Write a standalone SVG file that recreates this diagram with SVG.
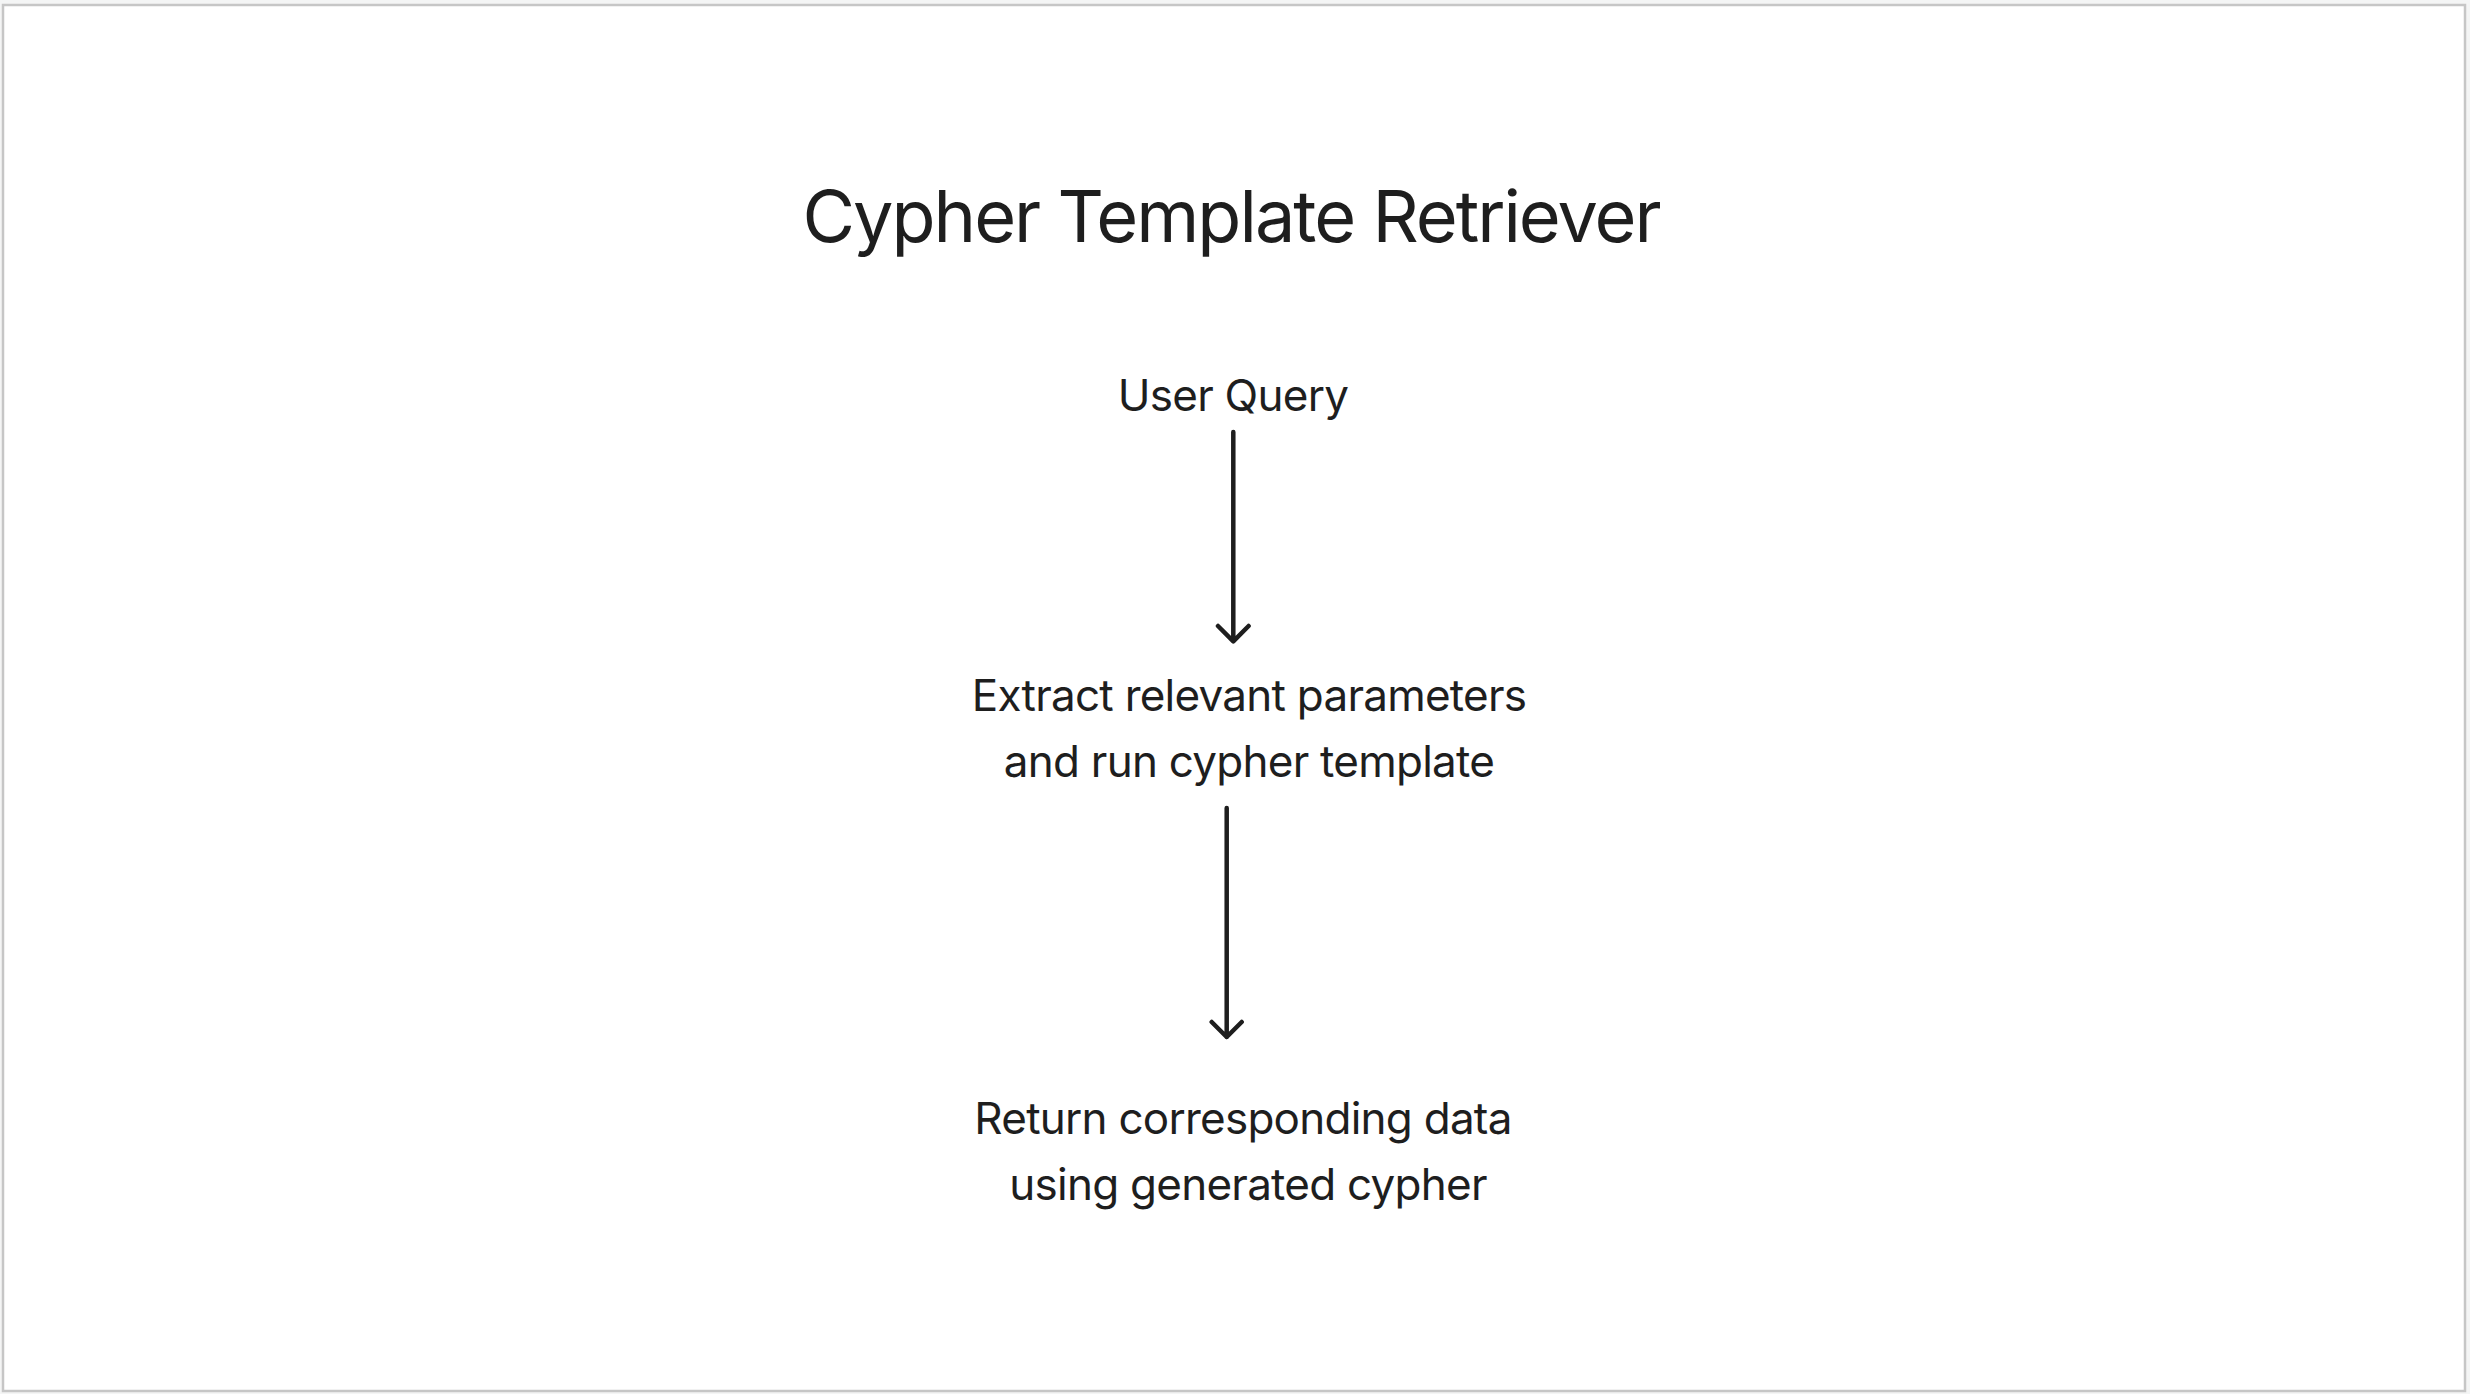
<svg xmlns="http://www.w3.org/2000/svg" width="2470" height="1394" viewBox="0 0 2470 1394">
<defs>
<style>
.t{font-family:Inter,"Noto Sans","Liberation Sans",sans-serif;fill:#1e1e1e;text-anchor:middle}
.title{font-size:72px;letter-spacing:-2px}
.lbl{font-size:44px;letter-spacing:-0.75px}
.c{stroke:#1e1e1e;stroke-width:4.5;stroke-linecap:round;stroke-linejoin:round;fill:none}
</style>
</defs>
<rect x="0" y="0" width="2470" height="1394" fill="#f4f5f5"/>
<rect x="3" y="5" width="2462" height="1386" fill="#ffffff" stroke="#c6c6c6" stroke-width="2.5"/>
<g id="title"><text class="t title" x="1231" y="242">Cypher Template Retriever</text></g>
<g id="user-query"><text class="t lbl" x="1233" y="411">User Query</text></g>
<g id="extract"><text class="t lbl" x="1249" y="711">Extract relevant parameters</text><text class="t lbl" x="1249" y="777">and run cypher template</text></g>
<g id="return"><text class="t lbl" x="1243" y="1134">Return corresponding data</text><text class="t lbl" x="1248" y="1200">using generated cypher</text></g>
<g id="connectors">
<path class="c" d="M1233.3 432V641M1218 626l15.3 15.3L1248.6 626"/>
<path class="c" d="M1226.7 808V1037M1211.7 1022l15 15L1241.7 1022"/>
</g>
</svg>
